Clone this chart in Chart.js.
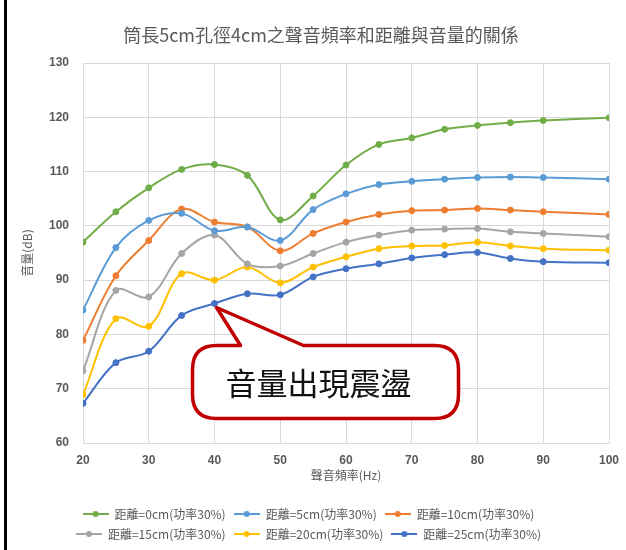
<!DOCTYPE html>
<html>
<head>
<meta charset="utf-8">
<script src="https://cdn.jsdelivr.net/npm/chart.js@4/dist/chart.umd.min.js"></script>
<style>
html,body{margin:0;padding:0;background:#fff;}
#wrap{position:relative;width:626px;height:550px;}
</style>
</head>
<body>
<div id="wrap"><canvas id="c" width="626" height="550"></canvas></div>
<script>
const chartTitle = "筒長5cm孔徑4cm之聲音頻率和距離與音量的關係";
const xTitle = "聲音頻率(Hz)";
const yTitle = "音量(dB)";
const calloutText = "音量出現震盪";
const freqs = [20,25,30,35,40,45,50,55,60,65,70,75,80,85,90,100];
const seriesNames = ["距離=0cm(功率30%)","距離=5cm(功率30%)","距離=10cm(功率30%)","距離=15cm(功率30%)","距離=20cm(功率30%)","距離=25cm(功率30%)"];
const d0  = [97.0,102.6,107.0,110.4,111.3,109.3,101.1,105.5,111.2,115.0,116.2,117.8,118.5,119.0,119.4,119.9];
const d5  = [84.5,96.0,101.0,102.3,99.1,99.8,97.3,103.0,105.9,107.6,108.2,108.6,108.9,109.0,108.9,108.6];
const d10 = [78.9,90.8,97.3,103.1,100.7,99.8,95.4,98.6,100.7,102.1,102.8,102.9,103.2,102.9,102.6,102.1];
const d15 = [73.3,88.1,86.9,94.9,98.3,93.0,92.6,94.9,97.0,98.3,99.2,99.4,99.5,98.9,98.6,98.0];
const d20 = [68.9,82.9,81.5,91.2,90.0,92.4,89.5,92.4,94.3,95.8,96.3,96.4,97.0,96.3,95.8,95.5];
const d25 = [67.3,74.8,76.9,83.5,85.7,87.5,87.3,90.6,92.1,93.0,94.1,94.7,95.1,94.0,93.4,93.2];
const yTicks = [60,130,10]; // min, max, step
const xTicks = [20,100,10];

const colors = ["#70AD47","#5B9BD5","#ED7D31","#A5A5A5","#FFC000","#4472C4"];
const allData = [d0,d5,d10,d15,d20,d25];

function legendIcon(color){
  const cv = document.createElement('canvas');
  cv.width = 26; cv.height = 10;
  const g = cv.getContext('2d');
  g.strokeStyle = color; g.lineWidth = 2;
  g.beginPath(); g.moveTo(0,5); g.lineTo(26,5); g.stroke();
  g.fillStyle = color;
  g.beginPath(); g.arc(13,5,3,0,Math.PI*2); g.fill();
  return cv;
}
const icons = colors.map(legendIcon);

const datasets = allData.map((arr,i)=>({
  label: seriesNames[i],
  data: freqs.map((f,j)=>({x:f,y:arr[j]})),
  borderColor: colors[i],
  backgroundColor: colors[i],
  pointBackgroundColor: colors[i],
  pointBorderColor: colors[i],
  pointRadius: 3,
  pointBorderWidth: 1,
  borderWidth: 2,
  tension: 0.35,
  fill: false
}));

const cjkFont = '"Noto Sans CJK TC", "Noto Sans CJK SC", sans-serif';

const framePlugin = {
  id:'frame',
  beforeDraw(chart){
    const ctx = chart.ctx;
    ctx.save();
    ctx.fillStyle = '#fff';
    ctx.fillRect(0,0,chart.width,chart.height);
    ctx.fillStyle = '#000';
    ctx.fillRect(4,0,3,chart.height);
    ctx.fillStyle = '#595959';
    ctx.font = '18px ' + cjkFont;
    ctx.textAlign = 'center';
    ctx.textBaseline = 'middle';
    ctx.fillText(chartTitle, 321, 35);
    ctx.restore();
  }
};

const calloutPlugin = {
  id:'callout',
  afterDatasetsDraw(chart){
    const ctx = chart.ctx;
    const xs = chart.scales.x, ys = chart.scales.y;
    const tipX = xs.getPixelForValue(freqs[4]) + 2;
    const tipY = ys.getPixelForValue(d25[4]) + 4;
    const L = tipX - 24, R = tipX + 242, T = tipY + 38, B = tipY + 111, r = 24;
    const b1 = tipX + 24, b2 = tipX + 87;
    ctx.save();
    ctx.beginPath();
    ctx.moveTo(L + r, T);
    ctx.lineTo(b1, T);
    ctx.lineTo(tipX, tipY);
    ctx.lineTo(b2, T);
    ctx.lineTo(R - r, T);
    ctx.quadraticCurveTo(R, T, R, T + r);
    ctx.lineTo(R, B - r);
    ctx.quadraticCurveTo(R, B, R - r, B);
    ctx.lineTo(L + r, B);
    ctx.quadraticCurveTo(L, B, L, B - r);
    ctx.lineTo(L, T + r);
    ctx.quadraticCurveTo(L, T, L + r, T);
    ctx.closePath();
    ctx.fillStyle = '#fff';
    ctx.fill();
    ctx.lineWidth = 3.5;
    ctx.strokeStyle = '#C00000';
    ctx.lineJoin = 'round';
    ctx.stroke();
    ctx.fillStyle = '#111';
    ctx.font = '31px ' + cjkFont;
    ctx.textAlign = 'center';
    ctx.textBaseline = 'middle';
    ctx.fillText(calloutText, (L + R)/2 - 7, (T + B)/2 + 1);
    ctx.restore();
  }
};

const tickFont = {family:'"Liberation Sans", Arial, sans-serif', size:12, weight:'bold'};

new Chart(document.getElementById('c'), {
  type:'line',
  data:{datasets},
  options:{
    responsive:false,
    animation:false,
    devicePixelRatio:1,
    layout:{padding:{left:8,right:17,top:63,bottom:0}},
    plugins:{
      title:{display:false},
      legend:{position:'bottom',
        labels:{usePointStyle:true,pointStyleWidth:26,boxHeight:10,padding:8,color:'#595959',
          font:{family:cjkFont,size:12},
          generateLabels(chart){
            return chart.data.datasets.map((ds,i)=>({
              text:ds.label, fillStyle:colors[i], strokeStyle:colors[i], lineWidth:0,
              pointStyle:icons[i], datasetIndex:i, hidden:false, fontColor:'#595959'
            }));
          }}},
      tooltip:{enabled:false}
    },
    scales:{
      x:{type:'linear',min:xTicks[0],max:xTicks[1],
        ticks:{stepSize:xTicks[2],color:'#595959',font:tickFont,padding:10},
        grid:{color:'#D9D9D9',drawTicks:false},
        border:{color:'#D9D9D9'},
        title:{display:true,text:xTitle,color:'#595959',font:{family:cjkFont,size:12},padding:{top:0,bottom:17}},
        afterFit(s){s.height=57; s.paddingRight=0; s.paddingLeft=0;}
      },
      y:{min:yTicks[0],max:yTicks[1],
        ticks:{stepSize:yTicks[2],color:'#595959',font:tickFont,padding:14},
        grid:{color:'#D9D9D9',drawTicks:false},
        border:{display:false},
        title:{display:true,text:yTitle,color:'#595959',font:{family:cjkFont,size:12},padding:{top:12,bottom:0}},
        afterFit(s){s.width=75;}
      }
    }
  },
  plugins:[framePlugin,calloutPlugin]
});
</script>
</body>
</html>
